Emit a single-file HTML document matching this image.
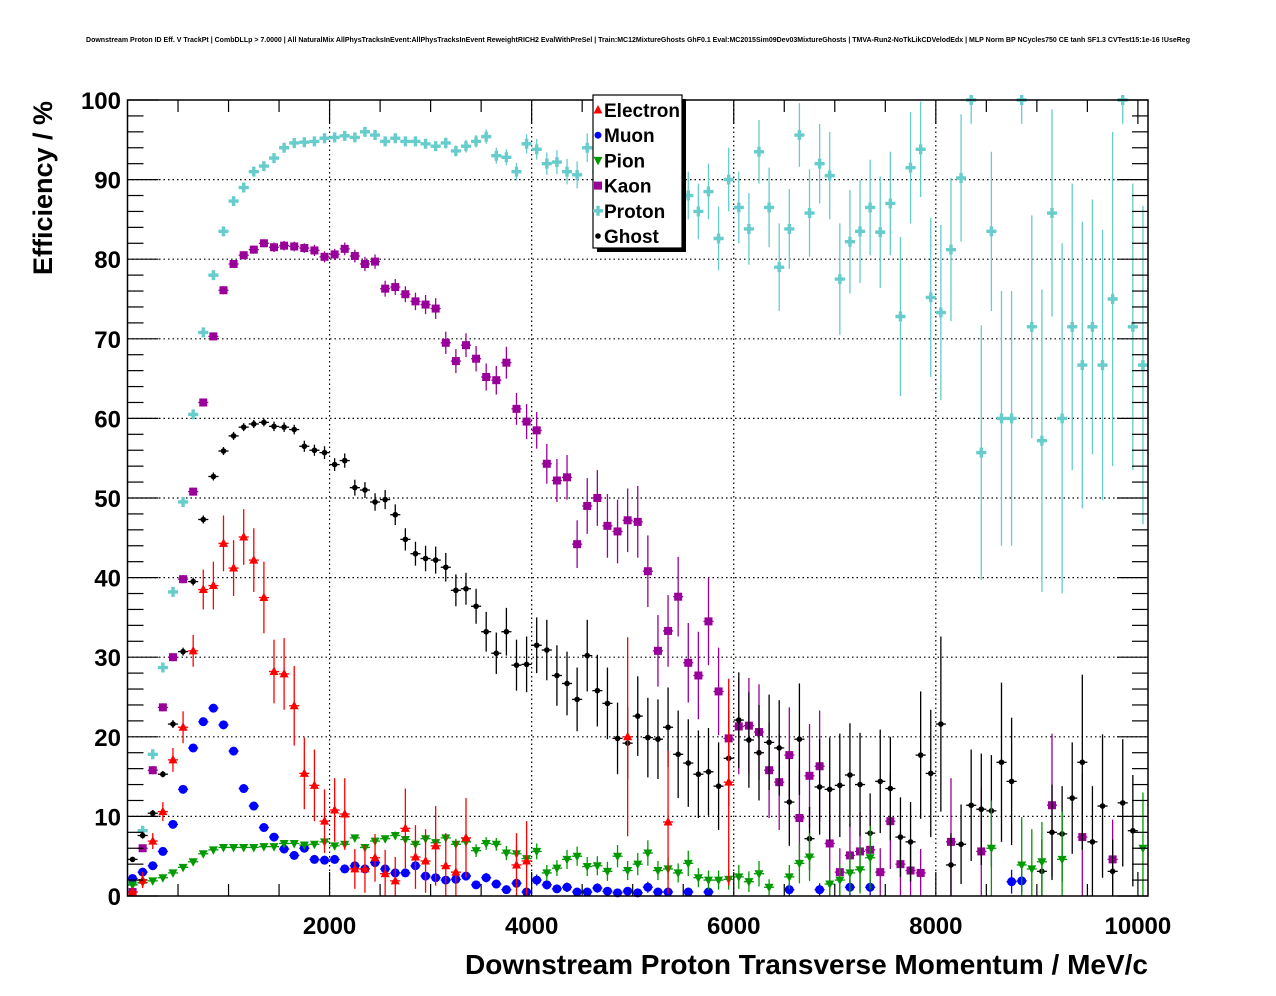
<!DOCTYPE html>
<html><head><meta charset="utf-8"><style>
html,body{margin:0;padding:0;background:#fff;}
svg{display:block;font-family:"Liberation Sans",Arial,sans-serif;}
</style></head><body>
<svg id="chart" width="1276" height="996" viewBox="0 0 1276 996" xmlns="http://www.w3.org/2000/svg">
<rect x="0" y="0" width="1276" height="996" fill="#fff"/>
<text x="638" y="42" text-anchor="middle" font-size="7" font-weight="bold" textLength="1104" lengthAdjust="spacingAndGlyphs">Downstream Proton ID Eff. V TrackPt | CombDLLp &gt; 7.0000 | All NaturalMix AllPhysTracksInEvent:AllPhysTracksInEvent ReweightRICH2 EvalWithPreSel | Train:MC12MixtureGhosts GhF0.1 Eval:MC2015Sim09Dev03MixtureGhosts | TMVA-Run2-NoTkLikCDVelodEdx | MLP Norm BP NCycles750 CE tanh SF1.3 CVTest15:1e-16 !UseReg</text>
<g id="grid"></g>
<g id="series"></g>
<rect x="127.5" y="100" width="1020.5" height="796" fill="none" stroke="#000" stroke-width="1.5"/>
<g id="axes"></g>
<text x="52" y="188" transform="rotate(-90 52 188)" text-anchor="middle" font-size="27" font-weight="bold">Efficiency / %</text>
<text x="465" y="974" font-size="28" font-weight="bold" textLength="683" lengthAdjust="spacingAndGlyphs">Downstream Proton Transverse Momentum / MeV/c</text>
<g id="legend"></g>
</svg>
<script>
const xTicks=[2000,4000,6000,8000,10000];
const yTicks=[0,10,20,30,40,50,60,70,80,90,100];
const seriesNames=["Electron","Muon","Pion","Kaon","Proton","Ghost"];

const electronP=[50,150,250,350,450,550,650,750,850,950,1050,1150,1250,1350,1450,1550,1650,1750,1850,1950,2050,2150,2250,2350,2450,2550,2650,2750,2850,2950,3050,3150,3250,3350,3850,3950,4950,5350,5950];
const electronV=[0.5,2,6.9,10.6,17.1,21.2,30.8,38.5,39,44.3,41.2,45.1,42.2,37.5,28.2,27.9,23.9,15.4,13.9,9.4,10.8,10.3,3.4,3.4,4.8,2.8,1.9,8.5,4.9,4.4,6.3,3.8,3,7.3,3.9,4.4,20,9.3,14.3];
const electronE=[0.5,1,1,1.2,1.5,2,2,2.5,3,3.5,3.5,3.5,4,4.5,4,4.5,5,4.5,4.5,4,4,4.5,2.5,3,3,3,3,5,4,4,5,4,4,5,4,5,12.5,9,13];

const muonP=[50,150,250,350,450,550,650,750,850,950,1050,1150,1250,1350,1450,1550,1650,1750,1850,1950,2050,2150,2250,2350,2450,2550,2650,2750,2850,2950,3050,3150,3250,3350,3450,3550,3650,3750,3850,3950,4050,4150,4250,4350,4450,4550,4650,4750,4850,4950,5050,5150,5250,5350,5550,5750,6550,6850,7150,7350,8750,8850];
const muonV=[2.2,3,3.8,5.6,9,13.4,18.6,21.9,23.6,21.5,18.2,13.5,11.3,8.6,7.4,5.9,5.1,6,4.6,4.5,4.6,3.4,3.8,3.4,4.2,3.4,2.9,2.9,3.8,2.5,2.3,2,2.1,2.5,1.4,2.3,1.5,0.8,1.6,0.5,2,1.4,0.9,1.1,0.5,0.5,1,0.6,0.4,0.6,0.4,1.1,0.5,0.5,0.5,0.5,0.8,0.8,1.1,1.1,1.8,1.9];
const muonE=[0.2,0.2,0.2,0.3,0.3,0.3,0.4,0.4,0.4,0.4,0.4,0.4,0.4,0.4,0.4,0.4,0.4,0.4,0.4,0.4,0.4,0.4,0.4,0.4,0.5,0.5,0.5,0.5,0.5,0.5,0.5,0.5,0.5,0.5,0.5,0.6,0.5,0.5,0.6,0.4,0.7,0.6,0.5,0.6,0.4,0.4,0.6,0.5,0.4,0.5,0.4,0.7,0.5,0.5,0.5,0.5,0.8,0.8,1,1,1.5,1.5];

const pionP=[50,150,250,350,450,550,650,750,850,950,1050,1150,1250,1350,1450,1550,1650,1750,1850,1950,2050,2150,2250,2350,2450,2550,2650,2750,2850,2950,3050,3150,3250,3350,3450,3550,3650,3750,3850,3950,4050,4150,4250,4350,4450,4550,4650,4750,4850,4950,5050,5150,5250,5350,5450,5550,5650,5750,5850,5950,6050,6150,6250,6350,6550,6650,6750,6950,7050,7150,7250,7350,8550,8850,8950,9050,9250,10050];
const pionV=[1.4,1.7,1.9,2.3,2.9,3.6,4.3,5.3,5.8,6.1,6.1,6.1,6.1,6.2,6.2,6.6,6.6,6.4,6.5,6.8,6.3,6.5,7.3,6.1,6.9,7.2,7.6,7.1,6.5,7.2,6.7,7.3,6.5,6.8,5.7,6.6,6.5,5.4,5.3,4.7,5.6,2.9,3.5,4.6,5,3.7,3.8,3.1,5,3.2,4,5.4,3.2,3.4,2.9,4.1,2.3,2,2,2.1,2.4,1.8,2.8,1.1,2.4,4.1,4.9,1.5,2,2.9,3.3,4.8,6,3.9,3.4,4.3,4.6,6];
const pionE=[0.2,0.2,0.2,0.2,0.2,0.2,0.2,0.2,0.2,0.2,0.2,0.2,0.2,0.2,0.2,0.2,0.2,0.3,0.3,0.3,0.3,0.3,0.4,0.4,0.4,0.4,0.5,0.5,0.5,0.6,0.6,0.6,0.7,0.7,0.8,0.8,0.8,0.9,1,1,1,1,1,1.2,1.2,1.2,1.2,1.2,1.4,1.2,1.4,1.6,1.2,1.4,1.2,1.6,1.2,1.2,1.2,1.3,1.5,1.3,1.6,1,1.5,2.5,3,1.8,2,2.5,3,4,6,6,5,5,6,7];

const kaonP=[50,150,250,350,450,550,650,750,850,950,1050,1150,1250,1350,1450,1550,1650,1750,1850,1950,2050,2150,2250,2350,2450,2550,2650,2750,2850,2950,3050,3150,3250,3350,3450,3550,3650,3750,3850,3950,4050,4150,4250,4350,4450,4550,4650,4750,4850,4950,5050,5150,5250,5350,5450,5550,5650,5750,5850,5950,6050,6150,6250,6350,6450,6550,6650,6750,6850,6950,7050,7150,7250,7350,7450,7550,7650,7750,7850,8150,8450,9150,9450,9750];
const kaonV=[0.5,6,15.8,23.7,30,39.8,50.8,62,70.3,76.1,79.4,80.5,81.2,82,81.5,81.7,81.6,81.4,81.1,80.3,80.6,81.3,80.4,79.4,79.7,76.3,76.5,75.6,74.7,74.3,73.8,69.5,67.2,69.2,67.5,65.2,64.8,67,61.2,59.6,58.5,54.3,52.2,52.6,44.2,49,50,46.5,45.8,47.2,47,40.8,30.8,33.3,37.6,29.3,27.7,34.5,25.7,19.8,21.3,21.4,20.6,15.8,14.3,17.7,9.8,15.1,16.3,6.6,3,5.1,5.6,5.8,3,9.4,4,3.2,2.9,6.8,5.6,11.4,7.4,4.6];
const kaonE=[0.3,0.4,0.5,0.5,0.5,0.5,0.5,0.5,0.5,0.5,0.5,0.5,0.5,0.5,0.6,0.6,0.6,0.6,0.7,0.7,0.7,0.8,0.8,0.9,0.9,1,1,1,1.1,1.2,1.3,1.4,1.5,1.5,1.6,1.7,1.8,2,2,2.2,2.3,2.5,2.7,2.8,3,3.5,3.5,4,4,4,4.5,4.5,4.5,4.5,5,5,5.5,5.5,5.5,6,6,6,6,6,6,6,6,6.5,7,6.5,3,4,5,5,3,6,4,3.5,3,8,8,9,8,5];

const protonP=[50,150,250,350,450,550,650,750,850,950,1050,1150,1250,1350,1450,1550,1650,1750,1850,1950,2050,2150,2250,2350,2450,2550,2650,2750,2850,2950,3050,3150,3250,3350,3450,3550,3650,3750,3850,3950,4050,4150,4250,4350,4450,4550,4650,4750,4850,4950,5050,5150,5250,5350,5450,5550,5650,5750,5850,5950,6050,6150,6250,6350,6450,6550,6650,6750,6850,6950,7050,7150,7250,7350,7450,7550,7650,7750,7850,7950,8050,8150,8250,8350,8450,8550,8650,8750,8850,8950,9050,9150,9250,9350,9450,9550,9650,9750,9850,9950,10050];
const protonV=[1.5,8.2,17.8,28.7,38.2,49.5,60.5,70.8,78,83.5,87.3,89,91,91.7,92.7,94,94.6,94.7,94.8,95.2,95.3,95.5,95.3,96,95.6,94.8,95.2,94.8,94.8,94.5,94.2,94.6,93.6,94.2,94.8,95.4,93,92.8,91,94.5,93.8,92,92.2,91,90.6,94,91,90,91,90,89,90,88,89,87,88,86,88.5,82.6,90,86.5,83.8,93.5,86.5,79,83.8,95.6,85.8,92,90.5,77.5,82.2,83.5,86.5,83.4,87,72.8,91.5,93.8,75.2,73.3,81.2,90.2,100,55.7,83.5,60,60,100,71.5,57.2,85.8,60,71.5,66.7,71.5,66.7,75,100,71.5,66.7];
const protonE=[0.3,0.3,0.4,0.4,0.4,0.4,0.4,0.4,0.4,0.4,0.4,0.4,0.4,0.4,0.4,0.4,0.4,0.4,0.4,0.4,0.4,0.4,0.4,0.5,0.5,0.5,0.5,0.5,0.6,0.6,0.6,0.7,0.7,0.8,0.8,0.9,1,1,1.1,1.2,1.3,1.4,1.5,1.6,1.7,1.8,2,2,2,2.2,2.2,2.4,2.6,2.8,3,3,3.5,3.5,4,4,4.5,4.5,4,5,5.5,5,4,5.5,5,5.5,7,6.5,6.5,6,7,6.5,10,7,6,10,11,9,8,3,16,10,16,16,3,14,19,13,22,18,18,16,17,21,3,18,20];

const ghostP=[50,150,250,350,450,550,650,750,850,950,1050,1150,1250,1350,1450,1550,1650,1750,1850,1950,2050,2150,2250,2350,2450,2550,2650,2750,2850,2950,3050,3150,3250,3350,3450,3550,3650,3750,3850,3950,4050,4150,4250,4350,4450,4550,4650,4750,4850,4950,5050,5150,5250,5350,5450,5550,5650,5750,5850,5950,6050,6150,6250,6350,6450,6550,6650,6750,6850,6950,7050,7150,7250,7350,7450,7550,7650,7750,7850,7950,8050,8150,8250,8350,8450,8550,8650,8750,9050,9150,9250,9350,9450,9550,9650,9750,9850,9950];
const ghostV=[4.6,7.6,10.4,15.3,21.6,30.7,39.5,47.3,52.7,55.9,57.8,58.9,59.3,59.5,59,58.9,58.6,56.5,56,55.7,54.2,54.7,51.3,51,49.5,49.8,47.9,44.8,43,42.4,42.2,41.3,38.4,38.6,36.4,33.2,30.5,33.2,29,29.1,31.5,30.9,27.7,26.7,24.7,30.2,25.8,24.2,19.8,19.2,22.6,19.9,19.7,21.2,17.8,16.7,15.3,15.6,13.8,17.3,22.1,19.6,18,19.3,18.6,11.8,19.7,7.2,13.7,13.4,13.9,15.2,14,7.9,14.4,13.5,7.4,6.8,17.7,15.4,21.6,3.9,6.5,11.4,10.9,10.7,16.8,14.4,3.1,8,7.8,12.3,16.8,6.8,11.3,3.1,11.7,8.2];
const ghostE=[0.3,0.4,0.4,0.4,0.5,0.5,0.5,0.5,0.5,0.5,0.5,0.5,0.5,0.5,0.6,0.6,0.6,0.7,0.7,0.8,0.8,0.9,1,1,1.1,1.2,1.3,1.4,1.5,1.6,1.7,1.8,2,2,2.2,2.5,2.6,3,3.2,3.5,3.5,3.8,3.8,4,4,4.5,4.5,4.5,4.5,4.5,5,5,5,5,5.5,5.5,5.5,5.5,5.5,6,6,6,6,6,6,5.5,7,4,6,6.5,6.5,6.5,6.5,5,6.5,6.5,5,5,8,8,11,4,5,7,7,7,10,8,4,6,6,7,11,7,9,4,8,7];

const X0=127.5, X1=1148, XMAX=10100, Y0=896, Y1=100;
function px(v){return X0+v*(X1-X0)/XMAX;}
function py(e){return Y0-e*(Y0-Y1)/100;}
const NS="http://www.w3.org/2000/svg";
function mk(tag,attrs,parent){const el=document.createElementNS(NS,tag);for(const k in attrs)el.setAttribute(k,attrs[k]);parent.appendChild(el);return el;}

const grid=document.getElementById('grid');
const axes=document.getElementById('axes');
xTicks.forEach(t=>{ if(t<10000){const l=mk('line',{x1:px(t),x2:px(t),y1:Y1,y2:Y0,stroke:'#000','stroke-width':1.2,'stroke-dasharray':'1.5,3'},grid);

}});
yTicks.forEach(t=>{ if(t>0&&t<100){const l=mk('line',{x1:X0,x2:X1,y1:py(t),y2:py(t),stroke:'#000','stroke-width':1.2,'stroke-dasharray':'1.5,3'},grid);

}});
for(let v=500;v<=10000;v+=500){const major=(v%2000===0);const h=major?24:12;
mk('line',{x1:px(v),x2:px(v),y1:Y0,y2:Y0-h,stroke:'#000','stroke-width':1.2},axes);
mk('line',{x1:px(v),x2:px(v),y1:Y1,y2:Y1+h,stroke:'#000','stroke-width':1.2},axes);}
for(let v=0;v<=100;v+=2){const major=(v%10===0);const w=major?31:16;
mk('line',{x1:X0,x2:X0+w,y1:py(v),y2:py(v),stroke:'#000','stroke-width':1.2},axes);
mk('line',{x1:X1,x2:X1-w,y1:py(v),y2:py(v),stroke:'#000','stroke-width':1.2},axes);}
xTicks.forEach(t=>{const tx=mk('text',{x:px(t),y:934,'text-anchor':'middle','font-size':24,'font-weight':'bold'},axes);tx.textContent=String(t);

});
yTicks.forEach(t=>{const tx=mk('text',{x:121,y:py(t)+9,'text-anchor':'end','font-size':24,'font-weight':'bold'},axes);tx.textContent=String(t);

});

function marker(type,cx,cy,color,parent){
  let el;
  if(type==='tu'){el=mk('polygon',{points:`${cx},${cy-5} ${cx-4.5},${cy+3.5} ${cx+4.5},${cy+3.5}`,fill:color},parent);}
  else if(type==='td'){el=mk('polygon',{points:`${cx},${cy+5} ${cx-4.5},${cy-3.5} ${cx+4.5},${cy-3.5}`,fill:color},parent);}
  else if(type==='ci'){el=mk('circle',{cx:cx,cy:cy,r:4.5,fill:color},parent);}
  else if(type==='sq'){el=mk('rect',{x:cx-4,y:cy-4,width:8,height:8,fill:color},parent);}
  else if(type==='cr'){el=mk('path',{d:`M${cx-1.7},${cy-5}h3.4v3.3h3.3v3.4h-3.3v3.3h-3.4v-3.3h-3.3v-3.4h3.3z`,fill:color},parent);}
  else {el=mk('circle',{cx:cx,cy:cy,r:2.8,fill:color},parent);}
  return el;
}
const layer=document.getElementById('series');
function drawSeries(name,P,V,E,color,type){
  const g=mk('g',{},layer);
  
  
  P.forEach((p,i)=>{
    const v=V[i]; if(v==null) return;
    const cx=px(p), cy=py(v);
    const e=E[i]||0;
    const top=Math.max(py(Math.min(100,v+e)),Y1), bot=Math.min(py(Math.max(0,v-e)),Y0);
    mk('line',{x1:cx,x2:cx,y1:top,y2:bot,stroke:color,'stroke-width':1.3},g);
    mk('line',{x1:px(p-50),x2:px(p+50),y1:cy,y2:cy,stroke:color,'stroke-width':1.3},g);
    const m=marker(type,cx,cy,color,g);
    
    
  });
}
drawSeries('Proton',protonP,protonV,protonE,'#66cccc','cr');
drawSeries('Kaon',kaonP,kaonV,kaonE,'#990099','sq');
drawSeries('Ghost',ghostP,ghostV,ghostE,'#000000','gh');
drawSeries('Muon',muonP,muonV,muonE,'#0000ff','ci');
drawSeries('Pion',pionP,pionV,pionE,'#009900','td');
drawSeries('Electron',electronP,electronV,electronE,'#ff0000','tu');

const lg=document.getElementById('legend');
mk('rect',{x:597,y:99,width:89,height:153,fill:'#000'},lg);
mk('rect',{x:593,y:95,width:89,height:153,fill:'#fff',stroke:'#000','stroke-width':1.2},lg);
const legColors=['#ff0000','#0000ff','#009900','#990099','#66cccc','#000000'];
const legTypes=['tu','ci','td','sq','cr','gh'];
seriesNames.forEach((n,i)=>{
  const y=110+i*25.2;
  const m=marker(legTypes[i],598,y,legColors[i],lg);
  if(legTypes[i]==='ci') m.setAttribute('r',3.5);
  
  
  const t=mk('text',{x:604,y:y+7,'font-size':19,'font-weight':'bold'},lg);
  t.textContent=n;
  
  
});
</script>
</body></html>
